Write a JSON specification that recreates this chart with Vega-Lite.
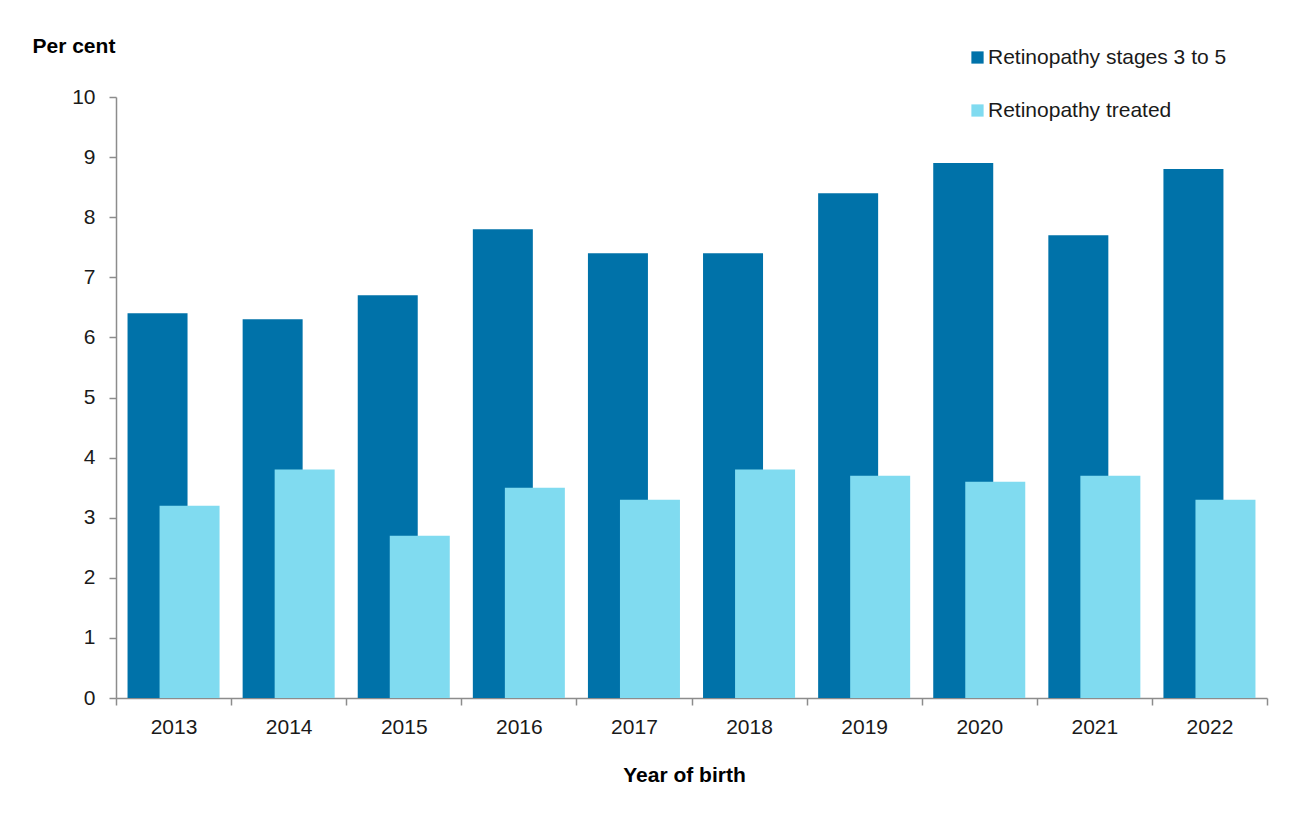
{
  "$schema": "https://vega.github.io/schema/vega-lite/v6.json",
  "autosize": {"type": "none"},
  "width": 1151,
  "height": 601,
  "padding": {"left": 116, "top": 97, "right": 25, "bottom": 118},
  "background": "#ffffff",
  "config": {
    "font": "Liberation Sans",
    "view": {"stroke": null},
    "axis": {"labelFont": "Liberation Sans", "titleFont": "Liberation Sans"}
  },
  "data": {
    "values": [
      {"year": "2013", "series": "Retinopathy stages 3 to 5", "value": 6.4},
      {"year": "2014", "series": "Retinopathy stages 3 to 5", "value": 6.3},
      {"year": "2015", "series": "Retinopathy stages 3 to 5", "value": 6.7},
      {"year": "2016", "series": "Retinopathy stages 3 to 5", "value": 7.8},
      {"year": "2017", "series": "Retinopathy stages 3 to 5", "value": 7.4},
      {"year": "2018", "series": "Retinopathy stages 3 to 5", "value": 7.4},
      {"year": "2019", "series": "Retinopathy stages 3 to 5", "value": 8.4},
      {"year": "2020", "series": "Retinopathy stages 3 to 5", "value": 8.9},
      {"year": "2021", "series": "Retinopathy stages 3 to 5", "value": 7.7},
      {"year": "2022", "series": "Retinopathy stages 3 to 5", "value": 8.8},
      {"year": "2013", "series": "Retinopathy treated", "value": 3.2},
      {"year": "2014", "series": "Retinopathy treated", "value": 3.8},
      {"year": "2015", "series": "Retinopathy treated", "value": 2.7},
      {"year": "2016", "series": "Retinopathy treated", "value": 3.5},
      {"year": "2017", "series": "Retinopathy treated", "value": 3.3},
      {"year": "2018", "series": "Retinopathy treated", "value": 3.8},
      {"year": "2019", "series": "Retinopathy treated", "value": 3.7},
      {"year": "2020", "series": "Retinopathy treated", "value": 3.6},
      {"year": "2021", "series": "Retinopathy treated", "value": 3.7},
      {"year": "2022", "series": "Retinopathy treated", "value": 3.3}
    ]
  },
  "mark": {"type": "bar", "width": 60},
  "encoding": {
    "x": {
      "field": "year",
      "type": "ordinal",
      "scale": {"paddingInner": 0, "paddingOuter": 0},
      "axis": {
        "title": "Year of birth",
        "labelAngle": 0,
        "labelFontSize": 21,
        "labelColor": "#1a1a1a",
        "labelPadding": 11,
        "tickBand": "extent",
        "tickSize": 7,
        "tickColor": "#8c8c8c",
        "domainColor": "#8c8c8c",
        "domainWidth": 1.5,
        "tickWidth": 1.5,
        "titleFontSize": 21,
        "titleFontWeight": "bold",
        "titleColor": "#000000",
        "titleAnchor": "start",
        "titleAlign": "center",
        "titleBaseline": "middle",
        "titleX": 568,
        "titleY": 77
      }
    },
    "xOffset": {
      "field": "series",
      "type": "nominal",
      "sort": ["Retinopathy stages 3 to 5", "Retinopathy treated"],
      "scale": {"paddingInner": 0, "paddingOuter": 0.797}
    },
    "y": {
      "field": "value",
      "type": "quantitative",
      "scale": {"domain": [0, 10], "nice": false},
      "axis": {
        "title": "Per cent",
        "values": [0, 1, 2, 3, 4, 5, 6, 7, 8, 9, 10],
        "grid": false,
        "labelFontSize": 21,
        "labelColor": "#1a1a1a",
        "labelPadding": 14,
        "tickSize": 7,
        "tickColor": "#8c8c8c",
        "domainColor": "#8c8c8c",
        "domainWidth": 1.5,
        "tickWidth": 1.5,
        "titleFontSize": 21,
        "titleFontWeight": "bold",
        "titleColor": "#000000",
        "titleAngle": 0,
        "titleAnchor": "start",
        "titleAlign": "left",
        "titleBaseline": "middle",
        "titleX": -84,
        "titleY": -51
      }
    },
    "color": {
      "field": "series",
      "type": "nominal",
      "scale": {
        "domain": ["Retinopathy stages 3 to 5", "Retinopathy treated"],
        "range": ["#0072a9", "#80dbf0"]
      },
      "legend": {
        "title": null,
        "orient": "none",
        "legendX": 851,
        "legendY": -50,
        "padding": 0,
        "symbolType": "square",
        "symbolSize": 150,
        "symbolStrokeWidth": 0,
        "symbolOpacity": 1,
        "labelFontSize": 21,
        "labelColor": "#1a1a1a",
        "labelOffset": 0,
        "rowPadding": 31,
        "labelLimit": 400
      }
    }
  }
}
